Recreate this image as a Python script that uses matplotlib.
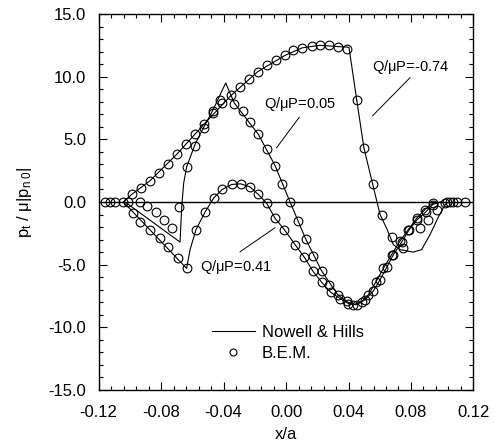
import matplotlib
matplotlib.use("Agg")
from matplotlib import pyplot as plt
from matplotlib.lines import Line2D

plt.rcParams["font.family"] = ["Liberation Sans", "DejaVu Sans"]
plt.rcParams["mathtext.fontset"] = "custom"
plt.rcParams["mathtext.rm"] = "Liberation Sans"
plt.rcParams["mathtext.it"] = "Liberation Sans"
plt.rcParams["axes.unicode_minus"] = False

# Q/uP = -0.74
line_a_x = [-0.104, -0.0988, -0.087, -0.07, -0.0525, -0.0352, -0.0181, -0.0006, 0.0104,
            0.0218, 0.0331, 0.0403, 0.0453, 0.0499, 0.0559, 0.0602, 0.0644, 0.0687,
            0.073, 0.0815, 0.0868, 0.0922, 0.0975, 0.1018, 0.104]
line_a_y = [0, 0.6, 1.7, 3.8, 6.2, 8.5, 10.4, 11.7, 12.3, 12.5, 12.4, 12.35, 8.1, 4.3,
            1.2, -1.0, -2.1, -3.4, -3.8, -4.0, -3.8, -2.6, -1.2, -0.2, 0]
bem_a_x = [-0.1158, -0.1126, -0.1094, -0.1041, -0.0988, -0.0928, -0.087, -0.0813, -0.0757,
           -0.07, -0.064, -0.0582, -0.0525, -0.0469, -0.0412, -0.0352, -0.0294, -0.0237,
           -0.0181, -0.0124, -0.0066, -0.0006, 0.0047, 0.0104, 0.0164, 0.0218, 0.0277,
           0.0331, 0.0389, 0.0453, 0.0499, 0.0559, 0.0612, 0.0676, 0.0751, 0.0858, 0.0911,
           0.0965, 0.1018, 0.105, 0.1093, 0.1146]
bem_a_y = [0, 0, 0, 0, 0.6, 1.1, 1.7, 2.3, 3.0, 3.8, 4.6, 5.4, 6.2, 7.1, 7.9, 8.5, 9.2, 9.8,
           10.4, 10.9, 11.3, 11.7, 12.1, 12.3, 12.45, 12.5, 12.5, 12.4, 12.2, 8.1, 4.3, 1.4,
           -1.0, -2.8, -3.7, -2.1, -1.4, -0.6, -0.1, 0, 0, 0]

# Q/uP = 0.05
line_b_x = [-0.103, -0.0678, -0.0668, -0.0655, -0.0636, -0.0582, -0.0525, -0.0469, -0.0386,
            -0.0331, -0.0177, -0.007, 0.0026, 0.0126, 0.0228, 0.0331, 0.0389, 0.0431,
            0.0484, 0.0527, 0.0574, 0.0623, 0.0676, 0.073, 0.0783, 0.0836, 0.089, 0.0939, 0.1]
line_b_y = [0, -3.2, -0.5, 1.5, 2.8, 4.6, 6.0, 7.3, 9.5, 7.9, 5.4, 2.9, 0, -2.95, -5.5,
            -7.4, -7.95, -8.2, -7.95, -7.4, -6.4, -5.3, -4.2, -3.1, -2.2, -1.3, -0.6, -0.1, 0]
bem_b_x = [-0.0934, -0.0888, -0.0832, -0.0781, -0.0728, -0.0685, -0.0636, -0.0582, -0.0525,
           -0.0469, -0.0422, -0.0331, -0.0277, -0.023, -0.0177, -0.0124, -0.007, -0.0028,
           0.0026, 0.0075, 0.0126, 0.0175, 0.0228, 0.0277, 0.0331, 0.0389, 0.0431, 0.0484,
           0.0527, 0.0574, 0.0623, 0.0676, 0.073, 0.0783, 0.0836, 0.089, 0.0939, 0.1029, 0.1071]
bem_b_y = [0, -0.3, -0.8, -1.4, -2.05, -0.4, 2.8, 4.5, 5.9, 7.3, 8.1, 7.8, 7.3, 6.4, 5.4,
           4.2, 2.9, 1.4, 0, -1.5, -2.95, -4.3, -5.5, -6.6, -7.4, -7.9, -8.2, -7.95, -7.4,
           -6.4, -5.3, -4.2, -3.1, -2.2, -1.3, -0.6, -0.1, 0, 0]

# Q/uP = 0.41
line_c_x = [-0.104, -0.0636, -0.0614, -0.0576, -0.0518, -0.0461, -0.0408, -0.0348, -0.029,
            -0.023, -0.0177, -0.0124, -0.007, -0.0011, 0.0058, 0.0117, 0.0171, 0.0228,
            0.0286, 0.0346, 0.0399, 0.0453, 0.0506, 0.0559, 0.0602, 0.0645, 0.0687, 0.074,
            0.0789, 0.084, 0.0894, 0.0939, 0.099]
line_c_y = [0, -5.3, -3.8, -2.2, -0.8, 0.35, 1.0, 1.4, 1.45, 1.2, 0.6, -0.1, -1.3, -2.2,
            -3.4, -4.4, -5.5, -6.4, -7.2, -7.7, -8.1, -8.2, -7.8, -7.1, -6.2, -5.2, -4.2,
            -3.2, -2.2, -1.4, -0.8, -0.2, 0]
bem_c_x = [-0.1009, -0.0977, -0.0934, -0.087, -0.0806, -0.0753, -0.0689, -0.0636, -0.0576,
           -0.0518, -0.0461, -0.0408, -0.0348, -0.029, -0.023, -0.0177, -0.0124, -0.007,
           -0.0011, 0.0058, 0.0117, 0.0171, 0.0228, 0.0286, 0.0346, 0.0399, 0.0453, 0.0506,
           0.0559, 0.0602, 0.0645, 0.0687, 0.074, 0.0789, 0.084, 0.0894, 0.0939]
bem_c_y = [0, -0.9, -1.6, -2.2, -2.9, -3.6, -4.5, -5.3, -2.2, -0.8, 0.35, 1.0, 1.4, 1.4,
           1.2, 0.6, -0.1, -1.3, -2.2, -3.4, -4.4, -5.5, -6.4, -7.2, -7.7, -8.1, -8.2, -7.8,
           -7.1, -6.2, -5.2, -4.2, -3.2, -2.2, -1.4, -0.8, -0.2]

x_ticks = [-0.12, -0.08, -0.04, 0.00, 0.04, 0.08, 0.12]
y_ticks = [-15, -10, -5, 0, 5, 10, 15]

fig = plt.figure(figsize=(4.94, 4.47), dpi=100)
ax = fig.add_axes([0.1994, 0.1275, 0.7591, 0.8412])

ax.axhline(0, color="k", linewidth=1.0)

mk = dict(marker="o", linestyle="none", markersize=6.3, markerfacecolor="none",
          markeredgecolor="k", markeredgewidth=0.8)
for lx, ly, bx, by in [(line_a_x, line_a_y, bem_a_x, bem_a_y),
                       (line_b_x, line_b_y, bem_b_x, bem_b_y),
                       (line_c_x, line_c_y, bem_c_x, bem_c_y)]:
    ax.plot(lx, ly, color="k", linewidth=0.8)
    ax.plot(bx, by, **mk)

ax.set_xlim(-0.12, 0.12)
ax.set_ylim(-15, 15)
ax.set_xticks(x_ticks)
ax.set_xticklabels(["%.2f" % v for v in x_ticks])
ax.set_yticks(y_ticks)
ax.set_yticklabels(["%.1f" % v for v in y_ticks])
ax.set_xticks([v / 1000 for v in range(-120, 121, 8)], minor=True)
ax.set_yticks(range(-15, 16), minor=True)
ax.tick_params(which="both", direction="in", top=True, right=True, width=0.8, labelsize=12)
ax.tick_params(which="major", length=5.5)
ax.tick_params(which="minor", length=3)
ax.tick_params(axis="x", pad=11)
ax.tick_params(axis="y", pad=9)
for s in ax.spines.values():
    s.set_linewidth(1.0)

ax.set_xlabel("x/a", fontsize=12, labelpad=4.5)
ax.set_ylabel(r"p$_{\rm t}$ / $\mu$|p$_{\rm n\ 0}$|", fontsize=12, labelpad=10)

# curve labels with leader lines
ax.text(0.0549, 10.8, r"Q/$\mu$P=-0.74", fontsize=10.5, va="center")
ax.plot([0.0794, 0.0555], [9.92, 6.89], color="k", linewidth=0.7)
ax.text(-0.0141, 7.82, r"Q/$\mu$P=0.05", fontsize=10.5, va="center")
ax.plot([0.0085, -0.006], [6.76, 4.33], color="k", linewidth=0.7)
ax.text(-0.055, -5.21, r"Q/$\mu$P=0.41", fontsize=10.5, va="center")
ax.plot([-0.007, -0.0294], [-2.05, -3.97], color="k", linewidth=0.7)

handles = [Line2D([], [], color="k", linewidth=0.8),
           Line2D([], [], marker="o", linestyle="none", markersize=5,
                  markerfacecolor="none", markeredgecolor="k", markeredgewidth=0.8)]
ax.legend(handles, ["Nowell & Hills", "B.E.M."], loc="upper left",
          bbox_to_anchor=(0.302, 0.172), frameon=False, fontsize=12, borderpad=0,
          handlelength=2.6, handletextpad=0.4, labelspacing=0.35, borderaxespad=0)

fig.savefig("out.png", dpi=100)
